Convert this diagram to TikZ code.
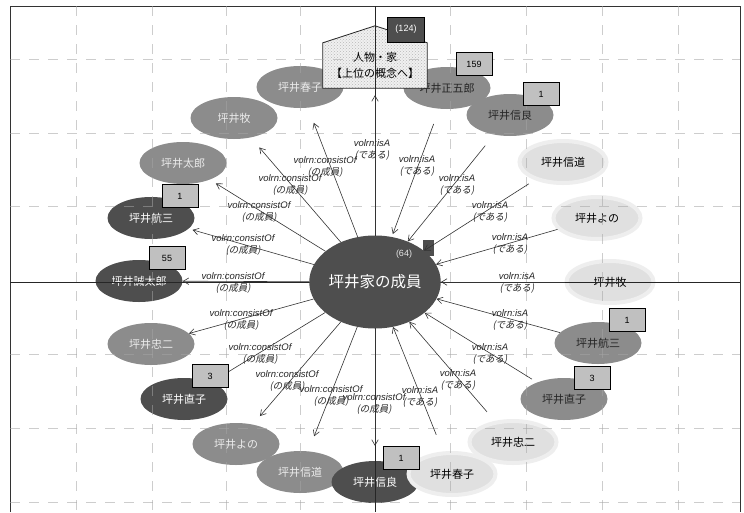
\documentclass[tikz,border=0pt]{standalone}
\usepackage{fontspec}
\setmainfont{Liberation Sans}
\newfontfamily\cjk{Noto Sans CJK JP}
\newfontfamily\cjksl[FakeSlant=0.2]{Noto Sans CJK JP}
\usetikzlibrary{shapes.geometric,arrows.meta,patterns,calc}
\definecolor{darkfill}{RGB}{78,78,78}
\definecolor{midfill}{RGB}{140,140,140}
\definecolor{faintfill}{RGB}{224,224,224}
\definecolor{boxfill}{RGB}{192,192,192}
\definecolor{gridcol}{RGB}{165,165,165}

\tikzset{
  person/.style={ellipse, minimum width=87pt, minimum height=42pt, inner sep=0pt,
                 font=\cjk\fontsize{11}{11}\selectfont},
  pdark/.style={person, fill=darkfill, text=white},
  pmidL/.style={person, fill=midfill, text=white!92!black},
  pmidR/.style={person, fill=midfill, text=black!85},
  pfaint/.style={person, fill=faintfill, draw=faintfill!55!white, line width=4pt, text=black},
  numbox/.style={rectangle, draw=black, line width=1pt, fill=boxfill,
                 minimum width=36pt, minimum height=23pt, inner sep=0pt,
                 font=\fontsize{9}{9}\selectfont},
  rel/.style={align=center, inner sep=0pt, text=black!85,
              font=\fontsize{9.5}{11.5}\selectfont},
  cons/.style={draw=black!80, line width=0.6pt, -{Straight Barb[length=5.5pt,width=6.5pt]}},
  isa/.style={cons},
  gridline/.style={draw=gridcol, line width=0.5pt, dash pattern=on 10pt off 9pt, opacity=0.55},
  axisline/.style={draw=black!85, line width=0.7pt}
}

\newcommand{\consLabel}{{\itshape volrn:consistOf}\\{\cjksl (の成員)}}
\newcommand{\isaLabel}{{\itshape volrn:isA}\\{\cjksl (である)}}

\begin{document}
\begin{tikzpicture}[x=1pt,y=-1pt]
\useasboundingbox[fill=white] (0,0) rectangle (744,512);

% members on the consistOf side
\node[pmidL] (makiL)    at (234,118) {坪井牧};
\node[pmidL] (haruL)    at (300,87)  {坪井春子};
\node[pmidL] (taro)     at (183,163) {坪井太郎};
\node[pdark] (kozoL)    at (151,218) {坪井航三};
\node[pdark] (seitaro)  at (139,281) {坪井誠太郎};
\node[pmidL] (chujiL)   at (151,344) {坪井忠二};
\node[pdark] (naokoL)   at (184,399) {坪井直子};
\node[pmidL] (yonoL)    at (236,444) {坪井よの};
\node[pmidL] (shindoL)  at (300,472) {坪井信道};
\node[pdark] (shinryoB) at (375,482) {坪井信良};

% members on the isA side
\node[pmidR]  (shogoro)  at (447,88)  {坪井正五郎};
\node[pmidR]  (shinryoR) at (510,115) {坪井信良};
\node[pfaint] (shindoR)  at (563,162) {坪井信道};
\node[pfaint] (yonoR)    at (597,218) {坪井よの};
\node[pfaint] (makiR)    at (610,282) {坪井牧};
\node[pmidR]  (kozoR)    at (598,343) {坪井航三};
\node[pmidR]  (naokoR)   at (564,399) {坪井直子};
\node[pfaint] (chujiR)   at (513,442) {坪井忠二};
\node[pfaint] (haruR)    at (452,474) {坪井春子};

% upper concept: house-shaped node
\node[rectangle, minimum width=104pt, minimum height=45pt, inner sep=0pt] (house) at (375,65.5) {};
\fill[gray!12] (house.south west) -- (house.north west) -- ($(house.north)+(0,-17)$)
      -- (house.north east) -- (house.south east) -- cycle;
\fill[pattern=crosshatch dots, pattern color=gray!55] (house.south west) -- (house.north west)
      -- ($(house.north)+(0,-17)$) -- (house.north east) -- (house.south east) -- cycle;
\draw[black!85, line width=0.8pt] (house.south west) -- (house.north west)
      -- ($(house.north)+(0,-17)$) -- (house.north east) -- (house.south east) -- cycle;
\node[align=center, font=\cjk\fontsize{11}{16}\selectfont, inner sep=0pt] (houseText)
      at (house) {人物・家\\【上位の概念へ】};

% frame, dashed grid and axes
\draw[black!80, line width=1pt] (10,512) -- (10,6) -- (740,6) -- (740,512);
\foreach \gx in {76,152,226,300,450,526,602,678}
  \draw[gridline] (\gx,6) -- (\gx,512);
\foreach \gy in {59,133,206,354,428,502}
  \draw[gridline] (10,\gy) -- (740,\gy);
\draw[axisline] (375,6) -- (375,512);
\draw[axisline] (10,282) -- (740,282);

% central class
\node[ellipse, fill=darkfill, minimum width=117pt, minimum height=93pt, inner sep=0pt,
      text=white, font=\cjk\fontsize{15.5}{15.5}\selectfont] (c) at (375,282) {坪井家の成員};
\fill[darkfill] (423,240) rectangle (434,256);
\node[text=white!90!black, font=\fontsize{9}{9}\selectfont, inner sep=0pt] (cnt) at (404,254) {(64)};

% consistOf relations
\draw[cons, shorten >=16pt] (c) -- (haruL);
\draw[cons, shorten >=13pt] (c) -- (makiL);
\draw[cons, shorten >=7pt]  (c) -- (taro);
\draw[cons, shorten >=4pt]  (c) -- (kozoL);
\draw[cons]                 (c) -- (seitaro);
\draw[cons]                 (c) -- (chujiL);
\draw[cons]                 (c) -- (naokoL);
\draw[cons, shorten >=11pt] (c) -- (yonoL);
\draw[cons, shorten >=16pt] (c) -- (shindoL);
\draw[cons, shorten >=15pt] (c) -- (shinryoB);

% isA relations
\draw[isa, shorten >=7pt] (c) -- (house);
\draw[isa, shorten <=16pt, shorten >=3pt] (shogoro) -- (c);
\draw[isa, shorten <=14pt] (shinryoR) -- (c);
\draw[isa, shorten <=7pt]  (shindoR) -- (c);
\draw[isa]                 (yonoR) -- (c);
\draw[isa]                 (makiR) -- (c);
\draw[isa]                 (kozoR) -- (c);
\draw[isa, shorten <=6pt]  (naokoR) -- (c);
\draw[isa, shorten <=12pt] (chujiR) -- (c);
\draw[isa, shorten <=18pt] (haruR) -- (c);

% relation labels
\node[rel] (lhL)  at (325,167) {\consLabel};
\node[rel] (lmL)  at (290,185) {\consLabel};
\node[rel] (ltr)  at (259,212) {\consLabel};
\node[rel] (lkL)  at (243,245) {\consLabel};
\node[rel] (lst)  at (233,283) {\consLabel};
\node[rel] (lcL)  at (241,320) {\consLabel};
\node[rel] (lnL)  at (260,354) {\consLabel};
\node[rel] (lyL)  at (287,381) {\consLabel};
\node[rel] (lsdL) at (331,396) {\consLabel};
\node[rel] (lsrB) at (374,404) {\consLabel};

\node[rel] (lhs)  at (372,150) {\isaLabel};
\node[rel] (lsg)  at (417,166) {\isaLabel};
\node[rel] (lsrR) at (457,185) {\isaLabel};
\node[rel] (lsdR) at (490,212) {\isaLabel};
\node[rel] (lyR)  at (510,244) {\isaLabel};
\node[rel] (lmR)  at (517,283) {\isaLabel};
\node[rel] (lkR)  at (510,320) {\isaLabel};
\node[rel] (lnR)  at (490,354) {\isaLabel};
\node[rel] (lcR)  at (458,380) {\isaLabel};
\node[rel] (lhR)  at (420,397) {\isaLabel};

% instance counts
\node[numbox, fill=darkfill, text=white, minimum height=25pt, minimum width=37pt] (n124) at (406,29.5) {(124)};
\node[numbox] (n159)  at (474,64)  {159};
\node[numbox] (n1a)   at (541,94)  {1};
\node[numbox] (n1b)   at (180,196) {1};
\node[numbox] (n55)   at (167,258) {55};
\node[numbox] (n3a)   at (210,376) {3};
\node[numbox] (n1c)   at (627,320) {1};
\node[numbox] (n3b)   at (592,378) {3};
\node[numbox] (n1d)   at (401,458) {1};
\end{tikzpicture}
\end{document}
